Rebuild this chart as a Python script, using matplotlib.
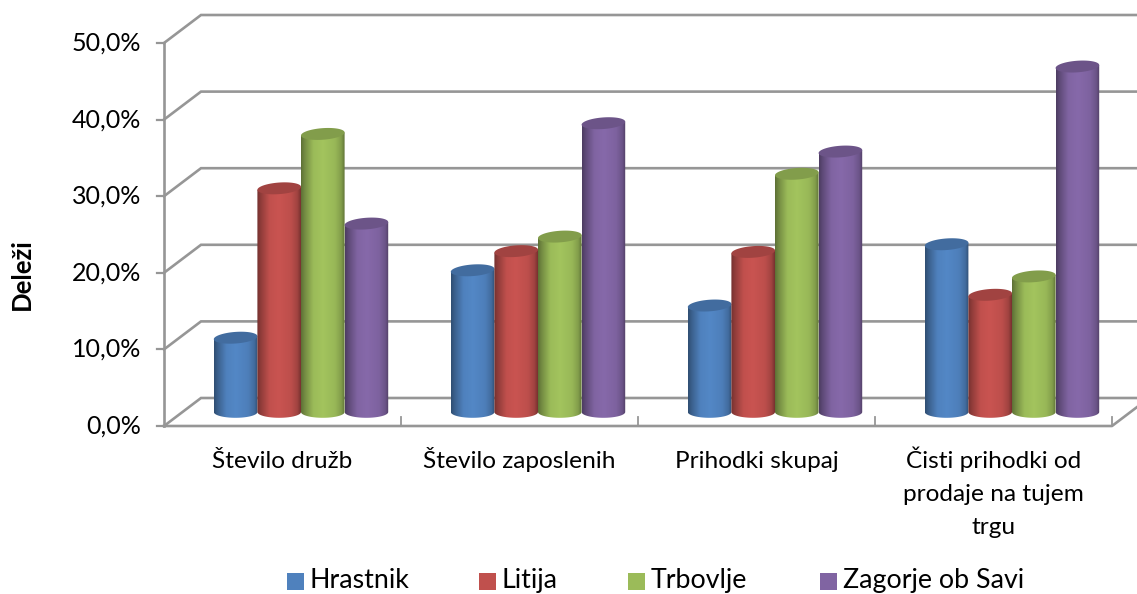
import numpy as np
import matplotlib
matplotlib.use('Agg')
import matplotlib.pyplot as plt
from matplotlib.colors import LinearSegmentedColormap
from matplotlib.patches import Polygon, Rectangle

plt.rcParams['font.family'] = ['Lato', 'DejaVu Sans']

categories = ['Število družb', 'Število zaposlenih', 'Prihodki skupaj',
              'Čisti prihodki od\nprodaje na tujem\ntrgu']
series = ['Hrastnik', 'Litija', 'Trbovlje', 'Zagorje ob Savi']
hrastnik = [9.7, 18.5, 13.9, 21.9]
litija = [29.2, 21.0, 20.9, 15.3]
trbovlje = [36.3, 22.9, 31.1, 17.7]
zagorje = [24.6, 37.7, 34.0, 45.1]
y_ticks = [0, 10, 20, 30, 40, 50]
y_labels = ['0,0%', '10,0%', '20,0%', '30,0%', '40,0%', '50,0%']
colors = ['#4F81BD', '#C0504D', '#9BBB59', '#8064A2']

W, H = 1137, 594
X0, Y0 = 164, 426          # pixel of front origin
CAT_PX, PCT_PX = 237.0, 7.66
DX, DY = 37 / CAT_PX, 28 / PCT_PX   # depth of the box in data units
BAR_W = 43.6 / CAT_PX
CAP = 5.8 / PCT_PX
TILT = 1.5 / PCT_PX
GRID = '#969696'

fig = plt.figure(figsize=(W / 100, H / 100), dpi=100)
ax = fig.add_axes([0, 0, 1, 1])
ax.axis('off')
xlim = (-X0 / CAT_PX, (W - X0) / CAT_PX)
ylim = ((Y0 - H) / PCT_PX, Y0 / PCT_PX)


def px(x):
    return (x - X0) / CAT_PX


def py(y):
    return (Y0 - y) / PCT_PX


# back wall lines and left side
for t in y_ticks:
    ax.plot([0, DX, xlim[1]], [t, t + DY, t + DY], color=GRID, lw=1.9, zorder=1,
            solid_joinstyle='miter')
    ax.plot([px(157), 0], [t, t], color=GRID, lw=1.6, zorder=1)
ax.plot([0, 0], [0, 50], color=GRID, lw=1.9, zorder=2)
ax.plot([0, 4, 4 + DX], [0, 0, DY], color=GRID, lw=1.9, zorder=2)
for i in range(1, 5):
    ax.plot([i, i], [0, 1.2], color=GRID, lw=1.3, zorder=2)

for t, lab in zip(y_ticks, y_labels):
    ax.text(px(141), t, lab, ha='right', va='center', fontsize=18, color='black')

# category labels line by line so all first lines share a baseline
for i, cat in enumerate(categories):
    for k, line in enumerate(cat.split('\n')):
        ax.text(i + 0.5, py(468 + 33 * k), line, ha='center', va='baseline',
                fontsize=17.6, color='black')


def shade(col):
    # dark edges, broad light middle
    c = np.array(matplotlib.colors.to_rgb(col))
    return LinearSegmentedColormap.from_list('s', [
        (0.0, c * 0.6), (0.08, c * 0.74), (0.28, np.minimum(c * 1.0, 1)),
        (0.5, np.minimum(c * 1.05, 1)), (0.78, np.minimum(c * 0.98, 1)),
        (0.92, c * 0.84), (1.0, c * 0.62)])


values = [hrastnik, litija, trbovlje, zagorje]
th = np.linspace(0, np.pi, 40)
th_cap = np.linspace(0, 2 * np.pi, 80)
grad = np.linspace(0, 1, 128).reshape(1, -1)
for s, vals in enumerate(values):
    for i, v in enumerate(vals):
        left = i + 0.5 + DX / 2 - 2 * BAR_W + s * BAR_W
        cx = left + BAR_W / 2
        base = DY / 2
        top = base + v
        bx = cx + BAR_W / 2 * np.cos(th)
        by = base - CAP * np.sin(th)
        outline = np.column_stack([
            np.r_[left + BAR_W, bx, left, left + BAR_W],
            np.r_[top + TILT, by, top - TILT, top + TILT]])
        z = 3 + s * 0.1
        clip = Polygon(outline, closed=True, transform=ax.transData, fc='none', ec='none')
        ax.add_patch(clip)
        im = ax.imshow(grad, extent=[left, left + BAR_W, base - CAP, top + TILT], aspect='auto',
                       cmap=shade(colors[s]), zorder=z, vmin=0, vmax=1)
        im.set_clip_path(clip)
        c = np.array(matplotlib.colors.to_rgb(colors[s])) * 0.84
        cap = np.column_stack([cx + BAR_W / 2 * np.cos(th_cap),
                               top + CAP * np.sin(th_cap) + TILT * np.cos(th_cap)])
        ax.add_patch(Polygon(cap, closed=True, fc=c, ec='none', zorder=z + 0.01))

ax.text(px(22), py(274), 'Deleži', rotation=90, ha='center', va='center',
        fontsize=18.5, fontweight='bold', color='black')

# legend
legend_x = [287, 479, 628, 820]
for name, col, lx in zip(series, colors, legend_x):
    ax.add_patch(Rectangle((px(lx), py(590)), 17 / CAT_PX, 17 / PCT_PX, fc=col, ec='none'))
    ax.text(px(lx + 23), py(588), name, ha='left', va='baseline', fontsize=19.3, color='black')

ax.set_xlim(xlim)
ax.set_ylim(ylim)
fig.savefig('out.png', dpi=100)
